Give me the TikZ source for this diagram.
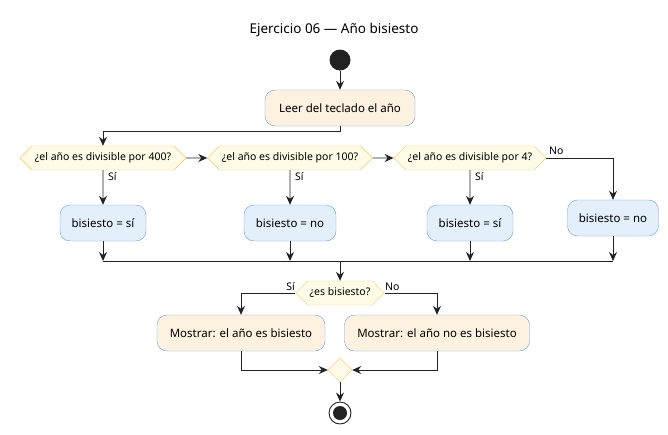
\documentclass[tikz,border=0pt]{standalone}
\usepackage{fontspec}
\setmainfont{Noto Sans}
\usetikzlibrary{arrows.meta,shapes.geometric,shapes.symbols}
\definecolor{actfill}{HTML}{FDF1DF}
\definecolor{setfill}{HTML}{E3F0FC}
\definecolor{actline}{HTML}{6E9FD6}
\definecolor{decfill}{HTML}{FEFBE6}
\definecolor{decline}{HTML}{F3C667}
\definecolor{ink}{HTML}{222222}
\tikzset{
  act/.style={rectangle,rounded corners=10pt,draw=actline,fill=actfill,minimum height=36pt,inner xsep=9pt,font=\fontsize{11.5}{13}\selectfont},
  setv/.style={act,fill=setfill},
  dec/.style={signal,signal to=west and east,draw=decline,fill=decfill,minimum height=24pt,inner xsep=2pt,font=\fontsize{10.5}{12}\selectfont},
  merge/.style={diamond,draw=decline,fill=decfill,minimum size=24pt,inner sep=0pt},
  lbl/.style={font=\fontsize{10.5}{12}\selectfont,inner sep=1pt},
  flow/.style={draw=ink,line width=0.9pt,-{Stealth[length=9pt,width=8pt,inset=3pt]}},
  link/.style={draw=ink,line width=0.9pt}
}
\begin{document}
\begin{tikzpicture}[x=1pt,y=-1pt]
    \useasboundingbox (0,0) rectangle (668,434);
    % nodes
    \node (title) at (334,30) {\fontsize{13.5}{16}\selectfont\bfseries Ejercicio 06 — Año bisiesto};
    \node (start) at (340,60) [circle,fill=ink,minimum size=21pt,inner sep=0pt] {};
    \node (leer) at (340,108) [act,minimum width=150pt] {Leer del teclado el año};
    \node (q400) at (103,158) [dec,minimum width=166pt] {¿el año es divisible por 400?};
    \node (q100) at (290,158) [dec,minimum width=165pt] {¿el año es divisible por 100?};
    \node (q4) at (470,158) [dec,minimum width=152pt] {¿el año es divisible por 4?};
    \node (b1) at (103,223) [setv,minimum width=86pt] {bisiesto = sí};
    \node (b2) at (290,223) [setv,minimum width=92pt] {bisiesto = no};
    \node (b3) at (470,223) [setv,minimum width=86pt] {bisiesto = sí};
    \node (b4) at (613,218) [setv,minimum width=91pt] {bisiesto = no};
    \coordinate (join) at (340,261);
    \node (ask) at (340,293) [dec,minimum width=87pt] {¿es bisiesto?};
    \node (m1) at (241,333) [act,minimum width=168pt] {Mostrar: el año es bisiesto};
    \node (m2) at (437,333) [act,minimum width=185pt] {Mostrar: el año no es bisiesto};
    \node (end) at (340,370) [merge] {};
    \node (stop) at (340,413) [circle,draw=ink,line width=0.9pt,minimum size=22pt,inner sep=0pt] {};
    \node at (stop) [circle,fill=ink,minimum size=14pt,inner sep=0pt] {};

    % labels
    \node (s1) at (107,177) [lbl,anchor=west] {Sí};
    \node (s2) at (294,177) [lbl,anchor=west] {Sí};
    \node (s3) at (474,177) [lbl,anchor=west] {Sí};
    \node (n3) at (548,151) [lbl,anchor=west] {No};
    \node (s4) at (296,287) [lbl,anchor=east] {Sí};
    \node (n4) at (384,287) [lbl,anchor=west] {No};

    % paths
    \path[flow] (start) -- (leer);
    \path[flow] (leer.south) |- (103,131) -- (q400.north);
    \path[flow] (q400) -- (q100);
    \path[flow] (q100) -- (q4);
    \path[flow] (q4.east) -| (b4.north);
    \path[flow] (q400) -- (b1);
    \path[flow] (q100) -- (b2);
    \path[flow] (q4) -- (b3);
    \path[flow] (b1) -- (b1 |- join);
    \path[flow] (b2) -- (b2 |- join);
    \path[flow] (b3) -- (b3 |- join);
    \path[flow] (b4) -- (b4 |- join);
    \path[link] (b1 |- join) -- (b4 |- join);
    \path[flow] (join) -- (ask.north);
    \path[flow] (ask.west) -| (m1.north);
    \path[flow] (ask.east) -| (m2.north);
    \path[flow] (m1.south) |- (end.west);
    \path[flow] (m2.south) |- (end.east);
    \path[flow] (end) -- (stop);
\end{tikzpicture}
\end{document}
